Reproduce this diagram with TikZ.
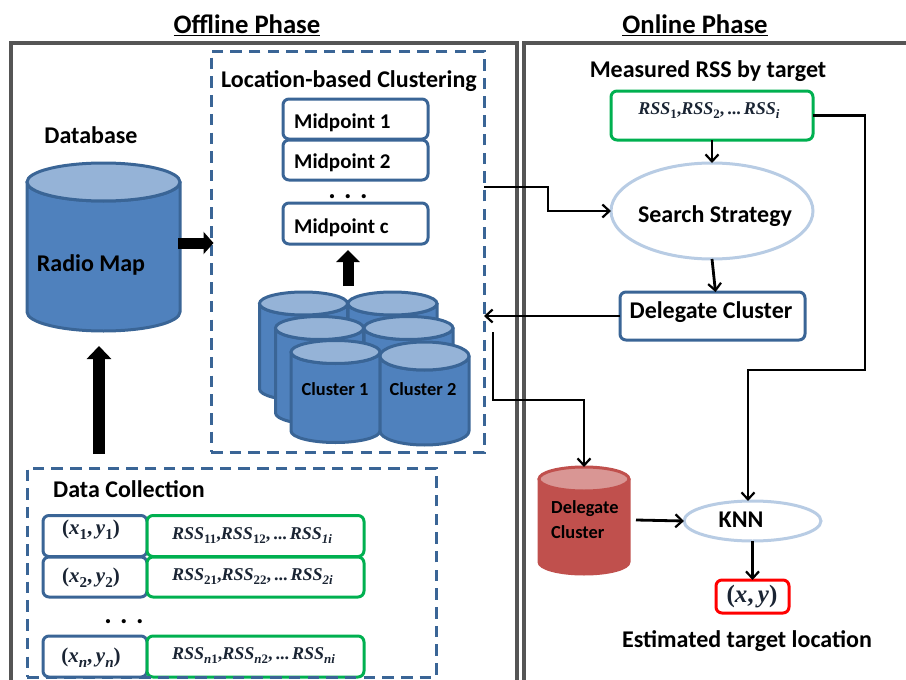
\documentclass[tikz,border=0pt]{standalone}
\usepackage{fontspec}
\setmainfont{Carlito}
\newfontfamily\mthi{Liberation Serif}[ItalicFont={Liberation Serif Bold Italic},BoldFont={Liberation Serif Bold}]
\usetikzlibrary{arrows.meta,shapes.geometric}
\definecolor{bluefill}{HTML}{4F81BD}
\definecolor{bluetop}{HTML}{95B3D7}
\definecolor{blueline}{HTML}{3A6596}
\definecolor{redfill}{HTML}{C0504D}
\definecolor{redtop}{HTML}{D99694}
\definecolor{ringblue}{HTML}{B8CCE4}
\definecolor{framegray}{HTML}{555555}
\definecolor{greenline}{HTML}{00B050}
\definecolor{mathink}{HTML}{1A2433}
\newcommand{\lowered}[1]{\raisebox{-0.22em}{\scalebox{0.72}{#1}}}
\newcommand{\RS}[1]{{\itshape RSS}\lowered{#1}}
\newcommand{\ii}[1]{{\itshape #1}}
\newcommand{\cylshape}[8]{% cx, cy, rx, ry, bottom, name, fill, line
  \path[fill=#7,draw=#8,line width=3pt,line join=round]
    ({#1-#3},#2) -- ({#1-#3},#5) arc[start angle=180,end angle=360,x radius=#3 pt,y radius=#4 pt]
    -- ({#1+#3},#2) arc[start angle=360,end angle=180,x radius=#3 pt,y radius=#4 pt] -- cycle;
  \path[fill=cyltop,draw=#8,line width=3pt] (#1,#2) ellipse[x radius=#3 pt,y radius=#4 pt];
  \node[minimum width={2*#3 pt},minimum height={(#5-#2+2*#4)*1pt},inner sep=0pt,outer sep=0pt] (#6) at (#1,{(#2+#5)/2}) {};
}
\tikzset{
  x=1pt,y=-1pt,
  frame/.style={draw=framegray,line width=3.2pt},
  dashbox/.style={draw=blueline,line width=3pt,dash pattern=on 11.5pt off 7.2pt},
  rbox/.style={draw=blueline,fill=white,line width=3pt,rounded corners=6pt,inner sep=0pt,outer sep=0pt},
  gbox/.style={draw=greenline,fill=white,line width=3pt,rounded corners=6pt,inner sep=0pt,outer sep=0pt},
  ring/.style={ellipse,draw=ringblue,fill=white,line width=3pt,inner sep=0pt,outer sep=0pt},
  title/.style={font=\fontsize{26.7}{28}\selectfont\bfseries,inner sep=0pt},
  lab/.style={font=\fontsize{24}{26}\selectfont\bfseries,inner sep=0pt},
  mid/.style={font=\fontsize{21}{24}\selectfont\bfseries,inner sep=0pt,anchor=west},
  clab/.style={font=\fontsize{18.4}{20}\selectfont\bfseries,inner sep=0pt},
  dotlab/.style={font=\fontsize{28}{28}\selectfont\bfseries,inner sep=0pt},
  mth/.style={font=\fontsize{18}{20}\selectfont\mthi\bfseries,text=mathink,inner sep=0pt},
  flow/.style={draw=black,line width=2.8pt,-{Straight Barb[length=7pt,width=13pt,line width=2.2pt]}},
  fat/.style={draw=black,line width=#1}
}
\begin{document}
\begin{tikzpicture}
\useasboundingbox (0,0) rectangle (906,680);
% frames
\draw[frame] (11,690) -- (11,43) -- (517,43) -- (517,690);
\draw[frame] (524,690) -- (524,43) -- (916,43);
% titles
\node[title] (off) at (247,25) {\underline{Offline Phase}};
\node[title] (on) at (695,25) {\underline{Online Phase}};
% database
\node[lab] (dbl) at (91,135) {Database};
\colorlet{cyltop}{bluetop}
\cylshape{103.5}{182}{76.5}{19}{312}{db}{bluefill}{blueline}
\node[lab] (rm) at (91,265) {Radio Map};
% location-based clustering
\node[dashbox,minimum width=273pt,minimum height=401pt,inner sep=0pt,outer sep=0pt] (lbc) at (347.5,251.5) {};
\node[lab] (lbcl) at (349,81) {Location-based Clustering};
\node[rbox,minimum width=145pt,minimum height=40pt] (m1) at (355.5,119) {};
\node[rbox,minimum width=145pt,minimum height=40pt] (m2) at (355.5,160) {};
\node[rbox,minimum width=145pt,minimum height=41pt] (m3) at (355.5,223.5) {};
\node[mid] (m1l) at (294,123) {Midpoint 1};
\node[mid] (m2l) at (294,163) {Midpoint 2};
\node[mid] (m3l) at (294,228) {Midpoint c};
\node[dotlab] (mdots) at (348,197) {. . .};
% cluster cylinders
\cylshape{303.5}{303.5}{44}{11.5}{389}{c5}{bluefill}{blueline}
\cylshape{392.5}{303.5}{44.5}{11.5}{389}{c6}{bluefill}{blueline}
\cylshape{319.5}{328}{44}{11.5}{413}{c3}{bluefill}{blueline}
\cylshape{408.5}{328}{44.5}{11.5}{413}{c4}{bluefill}{blueline}
\cylshape{335.5}{352}{44.5}{11.5}{431}{c1}{bluefill}{blueline}
\cylshape{424.5}{356}{44.5}{14}{431}{c2}{bluefill}{blueline}
\node[clab] (c1l) at (335,389) {Cluster 1};
\node[clab] (c2l) at (423,389) {Cluster 2};
% data collection
\node[rbox,minimum width=104pt,minimum height=41pt] (p1) at (95,536) {};
\node[rbox,minimum width=104pt,minimum height=40pt] (p2) at (95,577) {};
\node[rbox,minimum width=104pt,minimum height=41pt] (pn) at (95,656.5) {};
\node[gbox,minimum width=217pt,minimum height=41pt] (g1) at (255.5,536) {};
\node[gbox,minimum width=217pt,minimum height=40pt] (g2) at (255.5,577) {};
\node[gbox,minimum width=217pt,minimum height=41pt] (gn) at (255.5,656.5) {};
\node[dashbox,minimum width=409pt,minimum height=209pt,inner sep=0pt,outer sep=0pt] (dc) at (231.5,572.5) {};
\node[lab,anchor=west] (dcl) at (53,489) {Data Collection};
\node[mth,font=\fontsize{21}{24}\selectfont\mthi\bfseries] (p1l) at (91,530) {(\ii{x}\lowered{1},\,\ii{y}\lowered{1})};
\node[mth,font=\fontsize{21}{24}\selectfont\mthi\bfseries] (p2l) at (91,578) {(\ii{x}\lowered{2},\,\ii{y}\lowered{2})};
\node[mth,font=\fontsize{21}{24}\selectfont\mthi\bfseries] (pnl) at (91,658) {(\ii{x}\lowered{\ii{n}},\,\ii{y}\lowered{\ii{n}})};
\node[mth,anchor=west] (g1l) at (172,536) {\RS{11},\RS{12},\,...\,\RS{\ii{1i}}};
\node[mth,anchor=west] (g2l) at (172,577) {\RS{21},\RS{22},\,...\,\RS{\ii{2i}}};
\node[mth,anchor=west] (gnl) at (172,656) {\RS{\ii{n}1},\RS{\ii{n}2},\,...\,\RS{\ii{ni}}};
\node[dotlab] (ddots) at (124,622) {. . .};
% online
\node[lab] (mrl) at (708,71) {Measured RSS by target};
\node[gbox,minimum width=202pt,minimum height=49pt] (rss) at (712,115.5) {};
\node[mth] (rssl) at (709,111) {\RS{1},\RS{2},\,...\,\RS{\ii{i}}};
\node[ring,minimum width=202pt,minimum height=96pt] (ss) at (712,211) {};
\node[lab] (ssl) at (715,216) {Search Strategy};
\node[rbox,minimum width=185pt,minimum height=48pt] (dg) at (712.5,316) {};
\node[lab] (dgl) at (711,312) {Delegate Cluster};
\colorlet{cyltop}{redtop}
\cylshape{584}{479}{45}{12}{562}{dcyl}{redfill}{redfill}
\node[clab,anchor=west] (dcl1) at (551,509) {Delegate};
\node[clab,anchor=west] (dcl2) at (551,532) {Cluster};
\node[ring,minimum width=137pt,minimum height=40pt] (knn) at (752.5,521) {};
\node[lab] (knnl) at (741,520) {KNN};
\node[draw=red,fill=white,line width=3pt,rounded corners=6pt,inner sep=0pt,outer sep=0pt,minimum width=73pt,minimum height=33pt] (res) at (752.5,596.5) {};
\node[mth,font=\fontsize{25}{26}\selectfont\mthi\bfseries] (resl) at (752,597) {(\ii{x},\,\ii{y})};
\node[lab] (estl) at (747,641) {Estimated target location};
% free ends
\coordinate (a1) at (484,187);
\coordinate (a2) at (493,332);
\coordinate (a3) at (636,520);
\coordinate (u1) at (99,454);
\coordinate (u2) at (99,346);
\coordinate (v1) at (348,286);
\coordinate (v2) at (348,250);
\coordinate (w1) at (178,243);
\coordinate (w2) at (213.5,243);
% fat arrows
\draw[fat=11.5pt,-{Triangle[length=13pt,width=24pt]}] (u1) -- (u2);
\draw[fat=11pt,-{Triangle[length=12pt,width=23pt]}] (v1) -- (v2);
\draw[fat=11pt,-{Triangle[length=10pt,width=22pt]}] (w1) -- (w2);
% connectors
\draw[flow] (a1) -- (548,187) -- (548,211) -- (ss.west);
\draw[flow] (rss.south) -- (ss.north);
\draw[flow] (ss.south) -- ([xshift=3pt]dg.north);
\draw[flow] (dg.west) -- (484,316);
\draw[flow] (a2) -- (493,400) -| (dcyl.north);
\draw[flow] (rss.east) -- (865,115.5) -- (865,370) -- (748,370) -- ([xshift=-4.5pt]knn.north);
\draw[flow] (a3) -- (knn.west);
\draw[flow] (knn.south) -- (res.north);
\end{tikzpicture}
\end{document}
